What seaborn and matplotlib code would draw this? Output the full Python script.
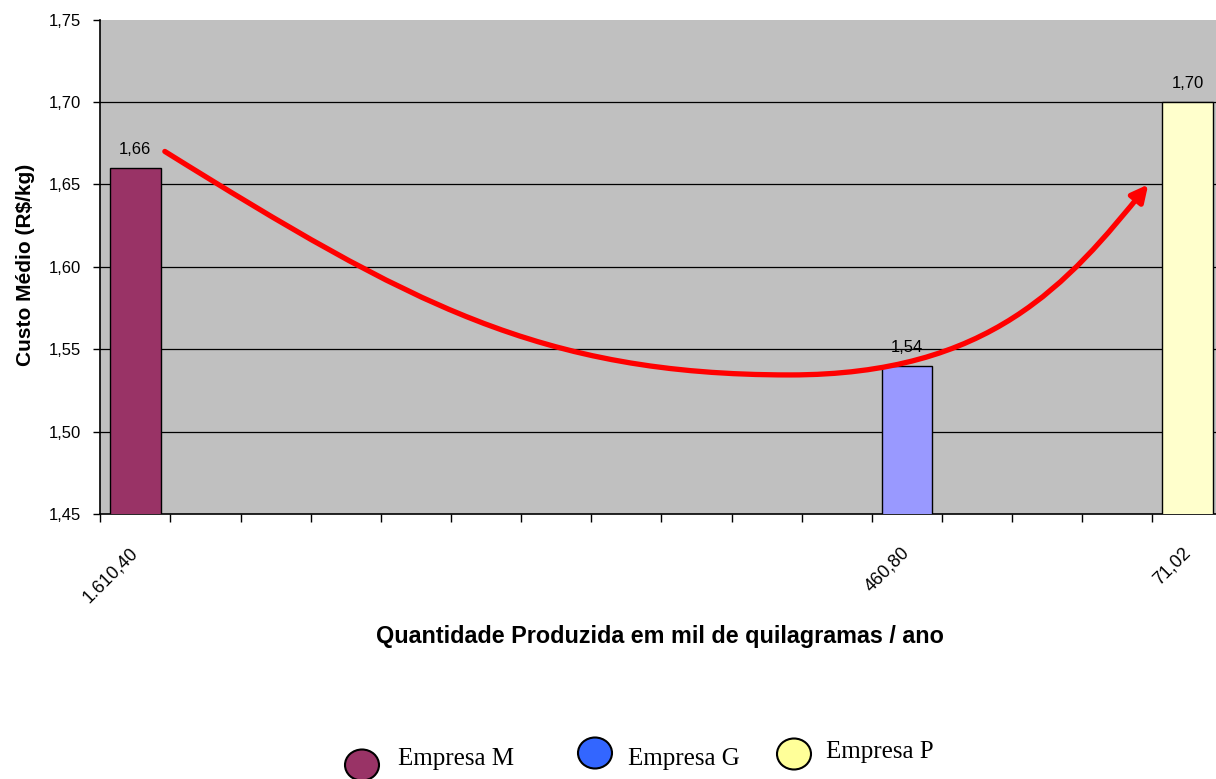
import matplotlib
matplotlib.use("Agg")
import matplotlib.pyplot as plt
from matplotlib.path import Path
from matplotlib.patches import FancyArrowPatch, Ellipse
import seaborn as sns
import pandas as pd

# --- data ---------------------------------------------------------------
empresas = ["Empresa M", "Empresa G", "Empresa P"]
quantidades = ["1.610,40", "460,80", "71,02"]      # mil kg / ano
custos = [1.66, 1.54, 1.70]                         # R$/kg
slot_idx = [0, 11, 15]                              # slot of each bar on the 16-slot axis
n_slots = 16

cores_barras = ["#993366", "#9999FF", "#FFFFCC"]
cores_legenda = ["#993366", "#3366FF", "#FFFF99"]

y_ticks = [1.45, 1.50, 1.55, 1.60, 1.65, 1.70, 1.75]

# trend curve (cubic Bezier control points, data coordinates)
curva = [(0.42, 1.670),
         (3.90, 1.578), (5.77, 1.5345), (9.33, 1.5345),
         (12.19, 1.5345), (13.30, 1.590), (14.44, 1.650)]

# --- figure -------------------------------------------------------------
sns.set_theme(style="white")
plt.rcParams["font.family"] = ["Liberation Sans", "DejaVu Sans"]

W, H = 1216, 779
fig = plt.figure(figsize=(W / 100, H / 100), dpi=100)
ax_l, ax_r, ax_t, ax_b = 100.3, 1222.6, 19.5, 514.3
ax = fig.add_axes([ax_l / W, 1 - ax_b / H, (ax_r - ax_l) / W, (ax_b - ax_t) / H])
ax.set_facecolor("#C0C0C0")

slots = [f"s{i}" for i in range(n_slots)]
df = pd.DataFrame({
    "slot": [slots[i] for i in slot_idx],
    "custo": custos,
    "empresa": empresas,
})

sns.barplot(data=df, x="slot", y="custo", order=slots, hue="empresa",
            hue_order=empresas, palette=cores_barras, saturation=1, width=0.72,
            edgecolor="black", linewidth=1.0, errorbar=None, legend=False,
            ax=ax, zorder=3)

ax.set_xlim(-0.5, n_slots - 0.5)
ax.set_ylim(y_ticks[0], y_ticks[-1])

# horizontal gridlines
for yv in y_ticks[1:-1]:
    ax.axhline(yv, color="black", lw=0.9, zorder=1)

# value labels
for cont in ax.containers:
    ax.bar_label(cont, labels=[f"{v:.2f}".replace(".", ",") for v in cont.datavalues],
                 padding=8, fontsize=12, color="black")

# y axis
ax.set_yticks(y_ticks)
ax.set_yticklabels([f"{v:.2f}".replace(".", ",") for v in y_ticks], fontsize=12)
ax.tick_params(axis="y", direction="out", length=5, width=1, pad=9,
               color="black", labelcolor="black", left=True)

# x axis: ticks on slot boundaries, labels on slot centres
ax.set_xticks([i - 0.5 for i in range(n_slots + 1)])
ax.set_xticklabels([])
ax.tick_params(axis="x", which="major", direction="out", length=6, width=1,
               color="black", bottom=True)
ax.set_xticks(slot_idx, minor=True)
ax.set_xticklabels(quantidades, minor=True, rotation=45, ha="right",
                   va="center", rotation_mode="anchor", fontsize=13)
ax.tick_params(axis="x", which="minor", length=0, pad=26, labelcolor="black")

for s in ["top", "right"]:
    ax.spines[s].set_visible(False)
for s in ["left", "bottom"]:
    ax.spines[s].set_color("black")
    ax.spines[s].set_linewidth(1.2)

ax.set_xlabel("Quantidade Produzida em mil de quilagramas / ano",
              fontsize=16.8, fontweight="bold", color="black")
ax.xaxis.set_label_coords((660 - ax_l) / (ax_r - ax_l), (ax_b - 636) / (ax_b - ax_t))
ax.xaxis.label.set_va("center")
ax.set_ylabel("Custo Médio (R$/kg)", fontsize=15, fontweight="bold", color="black")
ax.yaxis.set_label_coords((35 - ax_l) / (ax_r - ax_l), (ax_b - 264.5) / (ax_b - ax_t))

# red trend arrow
codes = [Path.MOVETO] + [Path.CURVE4] * 6
seta = FancyArrowPatch(path=Path(curva, codes), arrowstyle="-|>",
                       mutation_scale=25, color="red", lw=3.8,
                       shrinkA=0, shrinkB=0, zorder=5)
ax.add_patch(seta)

# hand-placed legend below the chart
leg = fig.add_axes([0, 0, 1, 1], facecolor="none")
leg.set_xlim(0, W)
leg.set_ylim(H, 0)
leg.axis("off")
leg_circ = [(362, 765), (595, 753), (794, 754)]
leg_txt = [(398, 759), (628, 759), (826, 752)]
for nome, cor, (cx, cy), (tx, ty) in zip(empresas, cores_legenda, leg_circ, leg_txt):
    leg.add_patch(Ellipse((cx, cy), 34, 31, facecolor=cor, edgecolor="black", lw=1.5))
    leg.text(tx, ty, nome, fontsize=18, family="Liberation Serif",
             ha="left", va="center", color="black")

fig.savefig("out.png", dpi=100)
